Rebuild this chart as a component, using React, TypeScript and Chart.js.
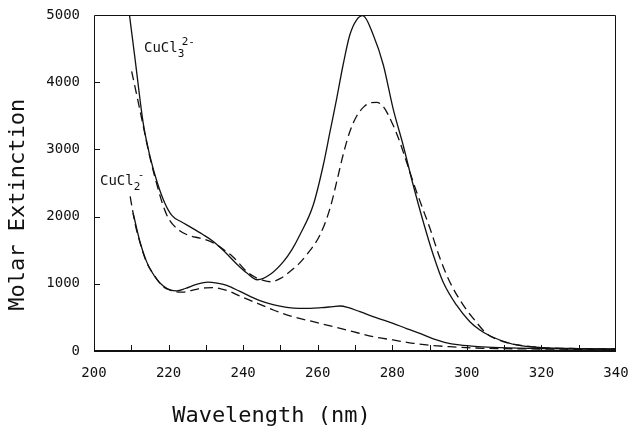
import React, { useEffect, useRef } from "react";
import { Chart, registerables } from "chart.js";

Chart.register(...registerables);

// CuCl3^2- , solid
const cucl3SolidX = [209.4, 211, 213.2, 215, 217, 219, 221, 223.5, 226, 229, 232, 235, 238, 241, 243.8, 247.5, 250.8, 253, 255.2, 258.8, 261.5, 263.3, 265.1, 266.8, 268.6, 270.4, 272.1, 274.9, 277.6, 280.2, 282.9, 285.6, 288.3, 291, 293.6, 297.2, 300.8, 303.5, 306, 309, 313.3, 320, 330, 340];
const cucl3SolidY = [5050, 4350, 3390, 2900, 2500, 2200, 2010, 1920, 1840, 1740, 1630, 1480, 1310, 1160, 1060, 1150, 1329, 1500, 1726, 2173, 2768, 3263, 3760, 4256, 4702, 4925, 4990, 4702, 4256, 3611, 3065, 2470, 1924, 1429, 1031, 685, 436, 313, 230, 160, 90, 50, 35, 30];

// CuCl3^2- , dashed
const cucl3DashX = [210.1, 211.5, 213.2, 215, 217, 218.5, 220, 223, 226, 228.4, 232, 235, 237.3, 241, 243.5, 245.4, 247.5, 250, 252.5, 255, 257, 260.6, 263.3, 265.1, 266.8, 268.6, 270.5, 272.5, 274, 275.8, 277.6, 280.2, 282, 283.8, 285.8, 287.8, 290.1, 292.8, 295.4, 299, 301.7, 305.3, 309.7, 315, 320, 330, 340];
const cucl3DashY = [4160, 3800, 3350, 2880, 2450, 2170, 1970, 1790, 1710, 1680, 1610, 1500, 1400, 1180, 1090, 1050, 1030, 1080, 1180, 1300, 1429, 1726, 2123, 2520, 2917, 3263, 3500, 3640, 3690, 3700, 3636, 3363, 3114, 2817, 2480, 2173, 1826, 1379, 1031, 685, 487, 260, 140, 80, 50, 35, 30];

// CuCl2^- , solid
const cucl2SolidX = [210.5, 212.3, 214.1, 215.5, 216.8, 218.5, 220.4, 222.2, 224.5, 227.5, 230.5, 233, 235.6, 239, 242, 244.5, 248, 251.7, 255, 258, 261, 264, 266, 268, 271.3, 276, 280.2, 284, 287.4, 291, 294, 298, 303, 308.8, 320, 330, 340];
const cucl2SolidY = [2050, 1630, 1330, 1180, 1070, 970, 910, 895, 930, 990, 1025, 1010, 975, 890, 810, 750, 690, 650, 635, 635, 645, 660, 670, 650, 585, 490, 412, 330, 263, 180, 130, 90, 65, 50, 35, 30, 25];

// CuCl2^- , dashed
const cucl2DashX = [209.7, 211, 212.3, 214.1, 216.8, 218.5, 220.4, 222, 223.9, 226, 228, 230, 232, 234, 236.5, 239, 242.7, 246, 248.1, 253.4, 258.8, 264.2, 269.5, 274.9, 280.2, 285.6, 290, 295.4, 302, 310, 320, 330, 340];
const cucl2DashY = [2300, 1900, 1620, 1320, 1075, 960, 905, 880, 875, 900, 925, 940, 942, 925, 885, 820, 735, 660, 610, 510, 436, 362, 287, 213, 164, 115, 85, 64, 45, 35, 30, 25, 25];

// axes
const xMin = 200;
const xMax = 340;
const xLabelStep = 20;
const xMinorStep = 10;
const yMin = 0;
const yMax = 5000;
const yStep = 1000;

const xTitle = "Wavelength (nm)";
const yTitle = "Molar Extinction";

// species labels: [base, subscript, superscript, x (nm), y (extinction)]
const speciesLabels: [string, string, string, number, number][] = [
  ["CuCl", "3", "2-", 213.4, 4450],
  ["CuCl", "2", "-", 201.6, 2470],
];

const MONO = "'DejaVu Sans Mono', 'Liberation Mono', monospace";
const INK = "#111";

const toPoints = (xs: number[], ys: number[]) => xs.map((x, i) => ({ x, y: ys[i] }));

const decorPlugin = {
  id: "decor",
  afterDatasetsDraw(chart: any) {
    const { ctx, chartArea: a, scales } = chart;
    const xs = scales.x;
    const ys = scales.y;
    ctx.save();
    ctx.strokeStyle = INK;
    // frame
    ctx.lineWidth = 1;
    ctx.beginPath();
    ctx.moveTo(a.left + 0.5, a.bottom);
    ctx.lineTo(a.left + 0.5, a.top + 0.5);
    ctx.lineTo(a.right - 0.5, a.top + 0.5);
    ctx.lineTo(a.right - 0.5, a.bottom);
    ctx.stroke();
    ctx.lineWidth = 2;
    ctx.beginPath();
    ctx.moveTo(a.left, a.bottom);
    ctx.lineTo(a.right, a.bottom);
    ctx.stroke();
    // inward ticks
    ctx.lineWidth = 1;
    ctx.beginPath();
    for (let v = xs.min + xMinorStep; v < xs.max; v += xMinorStep) {
      const px = Math.round(xs.getPixelForValue(v)) + 0.5;
      ctx.moveTo(px, a.bottom);
      ctx.lineTo(px, a.bottom - 6);
    }
    for (let v = ys.min + yStep; v < ys.max; v += yStep) {
      const py = Math.round(ys.getPixelForValue(v)) + 0.5;
      ctx.moveTo(a.left, py);
      ctx.lineTo(a.left + 6, py);
    }
    ctx.stroke();

    // species labels
    ctx.fillStyle = INK;
    ctx.textBaseline = "alphabetic";
    ctx.textAlign = "left";
    for (const [base, sub, sup, lx, ly] of speciesLabels) {
      const px = xs.getPixelForValue(lx);
      const py = ys.getPixelForValue(ly);
      ctx.font = `14px ${MONO}`;
      ctx.fillText(base, px, py);
      const w = ctx.measureText(base).width;
      ctx.font = `11px ${MONO}`;
      ctx.fillText(sub, px + w, py + 5);
      const ws = ctx.measureText(sub).width;
      ctx.fillText(sup, px + w + ws * 0.6, py - 7);
    }

    // axis titles
    ctx.font = `22px ${MONO}`;
    ctx.textAlign = "center";
    ctx.textBaseline = "alphabetic";
    ctx.fillText(xTitle, a.left + (a.right - a.left) * 0.34, a.bottom + 71);
    ctx.save();
    ctx.translate(24, a.top + (a.bottom - a.top) * 0.565);
    ctx.rotate(-Math.PI / 2);
    ctx.fillText(yTitle, 0, 0);
    ctx.restore();
    ctx.restore();
  },
};

export default function App() {
  const ref = useRef<HTMLCanvasElement | null>(null);
  useEffect(() => {
    if (!ref.current) return;
    const ds = (xs: number[], ys: number[], dashed: boolean) => ({
      data: toPoints(xs, ys),
      borderColor: INK,
      borderWidth: 1.3,
      borderDash: dashed ? [9, 5] : [],
      pointRadius: 0,
      fill: false,
      cubicInterpolationMode: "monotone" as const,
    });
    const chart = new Chart(ref.current, {
      type: "line",
      data: {
        datasets: [
          ds(cucl3SolidX, cucl3SolidY, false),
          ds(cucl3DashX, cucl3DashY, true),
          ds(cucl2SolidX, cucl2SolidY, false),
          ds(cucl2DashX, cucl2DashY, true),
        ],
      },
      options: {
        animation: false,
        responsive: false,
        maintainAspectRatio: false,
        events: [],
        layout: { padding: { top: 15, right: 14, left: 0, bottom: 0 } },
        plugins: { legend: { display: false }, tooltip: { enabled: false }, title: { display: false } },
        scales: {
          x: {
            type: "linear",
            min: xMin,
            max: xMax,
            border: { display: false },
            grid: { display: false, drawTicks: false },
            ticks: {
              stepSize: xLabelStep,
              padding: 14,
              color: INK,
              font: { family: MONO, size: 14 },
              maxRotation: 0,
              callback: (v: any) => String(v),
            },
            afterFit: (s: any) => {
              s.height = 78;
              s.paddingLeft = 0;
              s.paddingRight = 0;
            },
          },
          y: {
            type: "linear",
            min: yMin,
            max: yMax,
            border: { display: false },
            grid: { display: false, drawTicks: false },
            ticks: {
              stepSize: yStep,
              padding: 14,
              color: INK,
              font: { family: MONO, size: 14 },
              callback: (v: any) => String(v),
            },
            afterFit: (s: any) => {
              s.width = 94;
              s.paddingTop = 0;
              s.paddingBottom = 0;
            },
          },
        },
      },
      plugins: [decorPlugin],
    });
    return () => chart.destroy();
  }, []);
  return (
    <div style={{ position: "absolute", left: 0, top: 0, width: 630, height: 429, background: "#fff" }}>
      <canvas ref={ref} width={630} height={429} />
    </div>
  );
}
